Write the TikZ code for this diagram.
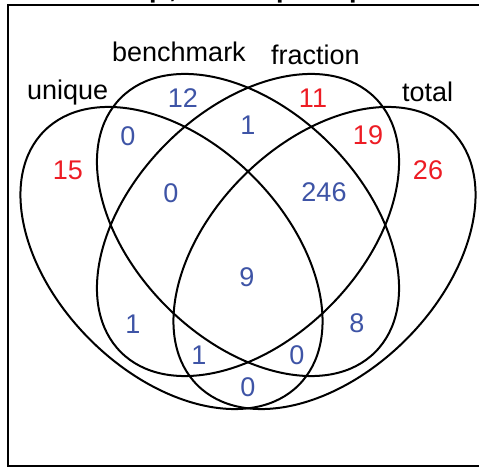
\documentclass[tikz,border=0pt]{standalone}
\usepackage{fontspec}
\setmainfont{Liberation Sans}
\definecolor{numblue}{RGB}{62,84,166}
\definecolor{numred}{RGB}{237,28,36}
\tikzset{
  setline/.style={line width=2pt, draw=black},
  setlabel/.style={anchor=base west, inner sep=0pt, font=\fontsize{27}{32}\selectfont},
  bnum/.style={text=numblue, inner sep=0pt, font=\fontsize{27}{32}\selectfont},
  rnum/.style={text=numred, inner sep=0pt, font=\fontsize{27}{32}\selectfont},
  ttl/.style={anchor=base west, inner sep=0pt, font=\fontsize{27}{32}\selectfont\bfseries}
}
\begin{document}
\begin{tikzpicture}[x=1pt,y=1pt]
\useasboundingbox (0,0) rectangle (479,468);
\fill[white] (0,0) rectangle (479,468);
% clipped title fragments
\begin{scope}
\clip (0,0) rectangle (479,468);
\node[ttl] (t1) at (149,470.8) {p};
\node[ttl] (t2) at (169,470.8) {,};
\node[ttl] (t3) at (276,470.8) {p};
\node[ttl] (t4) at (349,470.8) {p};
\end{scope}
% frame
\draw[line width=2.2pt] (8,2) rectangle (492,463);
% ellipses
\draw[setline] (171.5,210) ellipse[x radius=179.8, y radius=115.3, rotate=-45];
\draw[setline] (248,243) ellipse[x radius=179.8, y radius=115.3, rotate=-45];
\draw[setline] (248,243) ellipse[x radius=179.8, y radius=115.3, rotate=45];
\draw[setline] (324.5,210) ellipse[x radius=179.8, y radius=115.3, rotate=45];
% set labels
\node[setlabel] (lu) at (27,368) {unique};
\node[setlabel] (lb) at (112,406) {benchmark};
\node[setlabel] (lf) at (271,403) {fraction};
\node[setlabel] (lt) at (402,366) {total};
% counts
\node[bnum] (n12) at (183,370) {12};
\node[rnum] (n11) at (313,370) {11};
\node[bnum] (nab) at (128,332) {0};
\node[bnum] (nbc) at (248,343) {1};
\node[rnum] (n19) at (368,333) {19};
\node[rnum] (n15) at (68,298) {15};
\node[rnum] (n26) at (428,298) {26};
\node[bnum] (nabc) at (171,275) {0};
\node[bnum] (n246) at (324,276) {246};
\node[bnum] (n9) at (247,191) {9};
\node[bnum] (nl1) at (133,144) {1};
\node[bnum] (n8) at (357,145) {8};
\node[bnum] (nb1) at (199,113) {1};
\node[bnum] (nb0) at (297,113) {0};
\node[bnum] (nbot) at (248,81) {0};
\end{tikzpicture}
\end{document}
